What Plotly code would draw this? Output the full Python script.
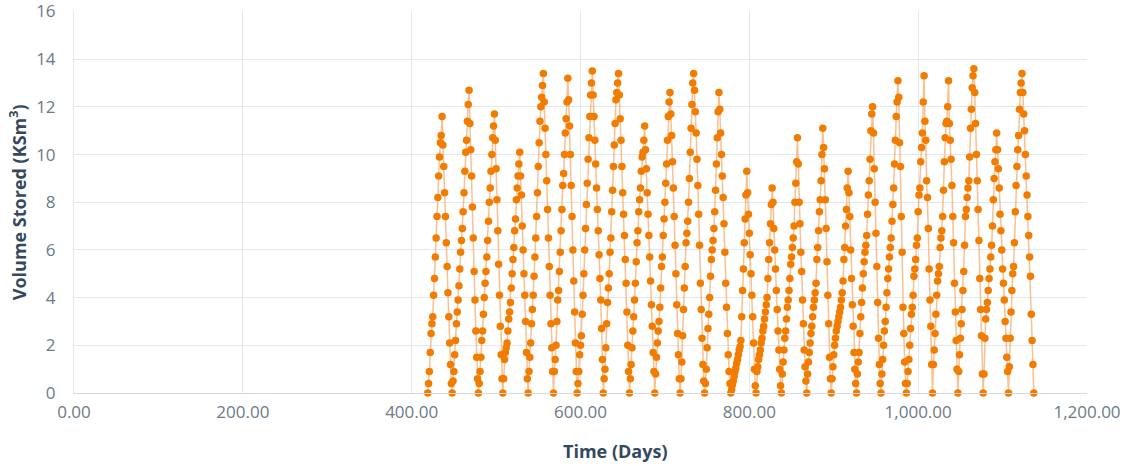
import plotly.graph_objects as go

# Storage volume (KSm³) sampled daily; each list is one fill/withdraw cycle
cycle_start_days = [419, 448, 479, 508, 538, 568, 596, 627, 658, 688, 718, 747,
                    778, 808, 838, 868, 897, 927, 956, 986, 1017, 1047, 1077, 1107]
final_day = 1137
final_value = 0.0

cycle_01 = [0, 0.4, 0.9, 1.7, 2.5, 2.9, 3.2, 4.1, 4.8, 5.7, 6.5, 7.4, 8.2, 9.1, 9.9, 10.5, 10.8, 11.6,
            10.4, 9.5, 8.4, 7.4, 6.3, 5.3, 4.2, 3.2, 2.1, 1.2, 0.4]
cycle_02 = [0, 0.5, 0.9, 1.6, 2.2, 2.9, 3.4, 3.9, 4.5, 5.2, 5.9, 6.4, 6.9, 7.6, 8.4, 9.3, 10.1, 10.6, 11.4, 12.1, 12.7,
            11.3, 10.2, 9.1, 7.8, 6.5, 5.1, 3.9, 2.6, 1.5, 0.6]
cycle_03 = [0, 0.4, 0.9, 1.5, 2.2, 2.6, 3.3, 4.0, 4.6, 5.1, 5.7, 6.4, 7.2, 8.0, 8.6, 9.3, 10.0, 10.7, 11.2, 11.7,
            10.6, 9.4, 8.1, 6.8, 5.4, 4.1, 2.8, 1.6, 0.6]
cycle_04 = [0, 0.6, 1.4, 1.7, 1.9, 2.1, 2.6, 3.1, 3.4, 3.8, 4.4, 5.0, 5.6, 6.1, 6.8, 7.3, 8.1, 8.6, 9.1, 9.6, 10.1,
            9.1, 8.3, 7.0, 6.0, 5.0, 4.1, 3.0, 1.7, 0.6]
cycle_05 = [0, 0.9, 1.5, 2.1, 2.9, 3.5, 4.1, 4.9, 5.7, 6.5, 7.4, 8.4, 9.5, 10.5, 11.4, 12.0, 12.4, 12.9, 13.4,
            12.2, 11.1, 10.0, 8.9, 7.7, 6.5, 5.3, 4.1, 2.9, 1.9, 0.9]
cycle_06 = [0, 0.9, 1.4, 2.0, 3.0, 3.9, 4.3, 5.1, 5.9, 6.8, 7.7, 8.7, 9.2, 10.0, 10.9, 11.5, 12.2, 13.2,
            12.3, 11.2, 10.0, 8.7, 7.4, 6.0, 4.7, 3.4, 2.1, 0.9]
cycle_07 = [0, 0.4, 0.9, 1.6, 2.0, 2.4, 3.3, 4.1, 5.0, 6.0, 6.9, 7.9, 8.8, 9.8, 10.7, 11.6, 12.5, 13.0, 13.5,
            12.5, 11.6, 10.6, 9.6, 8.6, 7.7, 6.8, 5.8, 4.8, 3.9, 2.7, 1.4]
cycle_08 = [0, 0.6, 1.0, 1.9, 2.9, 3.8, 4.4, 5.0, 5.9, 6.5, 7.6, 8.5, 9.5, 10.4, 11.3, 12.3, 12.6, 13.0, 13.4,
            12.5, 11.5, 10.6, 9.5, 8.4, 7.5, 6.6, 5.6, 4.6, 3.4, 2.0, 0.9]
cycle_09 = [0, 0.6, 1.2, 1.9, 2.6, 3.2, 3.9, 4.6, 5.5, 6.3, 6.8, 7.6, 8.1, 8.6, 9.3, 9.9, 10.1, 10.6, 11.2,
            10.2, 9.4, 8.4, 7.5, 6.6, 5.7, 4.7, 3.7, 2.8, 1.7, 0.9]
cycle_10 = [0, 0.8, 1.5, 2.1, 2.6, 3.0, 3.6, 4.4, 5.3, 5.7, 6.6, 7.3, 8.0, 8.8, 9.6, 10.6, 11.6, 12.2, 12.6,
            11.7, 10.8, 9.7, 8.6, 7.4, 6.2, 5.0, 3.7, 2.5, 1.6, 0.6]
cycle_11 = [0, 0.6, 1.3, 2.4, 3.5, 4.4, 5.3, 6.3, 6.7, 7.2, 8.0, 9.0, 10.1, 11.1, 12.1, 13.0, 13.4,
            12.7, 11.8, 10.9, 9.8, 8.7, 7.5, 6.2, 4.6, 3.5, 2.3, 1.2, 0.5]
cycle_12 = [0, 0.4, 1.0, 1.9, 2.7, 3.3, 4.0, 4.9, 5.6, 6.0, 6.4, 6.9, 7.6, 8.5, 9.6, 10.7, 11.8, 12.6,
            11.9, 10.9, 10.0, 9.1, 8.2, 7.1, 5.9, 4.6, 3.6, 2.5, 1.6, 0.9, 0.4]
cycle_13 = [0, 0.15, 0.35, 0.5, 0.7, 0.9, 1.05, 1.25, 1.4, 1.6, 1.8, 1.95, 2.2, 3.2, 4.3, 5.2, 6.3, 7.3, 8.3, 9.3,
            8.4, 7.5, 6.7, 5.8, 5.0, 4.1, 3.2, 2.1, 1.0, 0.3]
cycle_14 = [0, 0.9, 1.1, 1.4, 1.6, 1.8, 2.1, 2.3, 2.6, 2.8, 3.1, 3.4, 3.7, 4.0, 4.8, 5.6, 6.3, 7.1, 7.9, 8.6,
            8.0, 6.9, 6.0, 5.2, 4.3, 3.5, 2.6, 1.8, 1.0, 0.3]
cycle_15 = [0, 0.8, 1.3, 1.8, 2.3, 2.6, 3.1, 3.6, 3.9, 4.3, 4.8, 5.4, 5.7, 6.1, 6.5, 7.0, 8.0, 8.8, 9.7, 10.7,
            9.6, 8.0, 7.1, 5.9, 5.1, 3.9, 2.9, 1.8, 1.1, 0.5]
cycle_16 = [0, 0.8, 1.3, 1.7, 2.1, 2.5, 2.8, 3.2, 3.6, 3.9, 4.2, 4.6, 5.6, 6.1, 6.8, 7.6, 8.1, 8.9, 10.0, 11.1,
            10.3, 9.4, 8.1, 6.9, 5.5, 4.1, 2.9, 1.5, 0.6]
cycle_17 = [0, 0.6, 1.1, 1.6, 2.0, 2.3, 2.6, 2.8, 3.0, 3.2, 3.4, 3.6, 3.9, 4.2, 4.7, 5.6, 6.1, 7.0, 7.7, 8.6, 9.3,
            8.4, 7.4, 6.0, 4.8, 3.7, 2.8, 1.7, 1.0, 0.4]
cycle_18 = [0, 0.8, 1.3, 1.7, 2.5, 3.2, 3.8, 4.4, 5.0, 5.5, 5.9, 6.2, 6.6, 7.5, 8.3, 8.9, 9.8, 11.0, 11.7, 12.0,
            10.9, 9.4, 8.0, 6.7, 5.3, 3.8, 2.3, 1.2, 0.4]
cycle_19 = [0, 0.8, 1.4, 2.0, 2.6, 3.0, 3.6, 4.2, 4.8, 5.2, 5.7, 6.1, 6.5, 7.2, 7.9, 8.6, 9.6, 10.6, 11.6, 12.2, 13.1,
            12.4, 10.5, 9.5, 7.4, 5.9, 3.6, 2.5, 1.3, 0.4]
cycle_20 = [0, 0.4, 0.9, 1.4, 2.0, 2.7, 3.3, 3.6, 4.1, 4.9, 5.2, 5.6, 6.2, 6.5, 7.6, 8.3, 8.6, 9.7, 10.3, 10.9, 12.2, 13.3,
            11.4, 10.6, 8.9, 8.2, 6.9, 5.2, 3.9, 2.8, 1.2]
cycle_21 = [0, 1.2, 1.8, 2.5, 3.3, 4.1, 4.7, 5.0, 5.3, 6.1, 6.5, 6.8, 7.4, 8.5, 9.7, 10.7, 11.3, 11.4, 12.0, 13.1,
            11.3, 10.6, 9.8, 8.7, 7.4, 6.3, 4.6, 3.4, 2.2, 1.0]
cycle_22 = [0, 0.9, 1.6, 2.3, 2.9, 3.5, 4.3, 5.1, 6.2, 7.4, 7.7, 8.2, 8.6, 8.9, 9.9, 11.1, 11.9, 12.8, 13.3, 13.6,
            12.6, 11.3, 10.0, 8.9, 7.7, 6.4, 4.8, 3.5, 2.4, 0.8]
cycle_23 = [0, 0.8, 2.3, 3.1, 3.5, 3.8, 4.3, 4.8, 5.2, 5.7, 6.2, 7.0, 8.1, 9.0, 9.7, 10.2, 10.9,
            10.2, 9.4, 8.6, 7.5, 6.8, 6.0, 5.2, 4.6, 3.9, 3.0, 2.3, 1.5, 0.9]
cycle_24 = [0, 1.1, 2.3, 3.4, 4.3, 5.0, 5.3, 6.3, 7.6, 8.7, 9.5, 10.2, 10.8, 11.9, 12.6, 13.0, 13.4,
            12.6, 11.7, 11.0, 10.0, 9.1, 8.3, 7.4, 6.6, 5.7, 4.9, 3.3, 2.2, 1.2]

cycles = [cycle_01, cycle_02, cycle_03, cycle_04, cycle_05, cycle_06, cycle_07, cycle_08,
          cycle_09, cycle_10, cycle_11, cycle_12, cycle_13, cycle_14, cycle_15, cycle_16,
          cycle_17, cycle_18, cycle_19, cycle_20, cycle_21, cycle_22, cycle_23, cycle_24]

days, volume = [], []
for start, vals in zip(cycle_start_days, cycles):
    for i, v in enumerate(vals):
        days.append(start + i)
        volume.append(v)
days.append(final_day)
volume.append(final_value)

x_ticks = [0, 200, 400, 600, 800, 1000, 1200]
y_ticks = [0, 2, 4, 6, 8, 10, 12, 14, 16]

FONT = "Open Sans"
TICK_COLOR = "#6c7a8a"
TITLE_COLOR = "#34495e"
GRID = "#e3e8ef"

fig = go.Figure(go.Scatter(
    x=days, y=volume, mode="lines+markers",
    line=dict(color="rgba(246,150,70,0.6)", width=1.5),
    marker=dict(color="#f27c00", size=7.5),
    cliponaxis=False, showlegend=False,
))

fig.update_layout(
    width=1129, height=466,
    margin=dict(l=74, r=42, t=11, b=73, autoexpand=False),
    paper_bgcolor="white", plot_bgcolor="white",
    font=dict(family=FONT, size=17, color=TICK_COLOR),
    xaxis=dict(range=[0, 1200], tickvals=x_ticks,
               ticktext=[f"{v:,.2f}" for v in x_ticks],
               showgrid=True, gridcolor=GRID, gridwidth=1,
               showline=True, linecolor="#d3dae3", linewidth=1,
               zeroline=False, ticks="", ticklabelstandoff=4,
               ticklabeloverflow="allow", automargin=False),
    yaxis=dict(range=[0, 16.02], tickvals=y_ticks,
               showgrid=True, gridcolor=GRID, gridwidth=1,
               showline=True, linecolor=GRID, linewidth=1,
               zeroline=False, ticks="", ticklabelstandoff=14,
               ticklabeloverflow="allow", automargin=False),
    annotations=[
        dict(text="<b>Time (Days)</b>", xref="paper", yref="paper",
             x=0.534, y=-0.151, xanchor="center", yanchor="middle",
             showarrow=False, font=dict(family=FONT, size=18, color=TITLE_COLOR)),
        dict(text="<b>Volume Stored (KSm<sup>3</sup>)</b>", xref="paper", yref="paper",
             x=-0.055, y=0.5, xanchor="center", yanchor="middle", textangle=-90,
             showarrow=False, font=dict(family=FONT, size=18, color=TITLE_COLOR)),
    ],
)

fig.write_html("out.html")
